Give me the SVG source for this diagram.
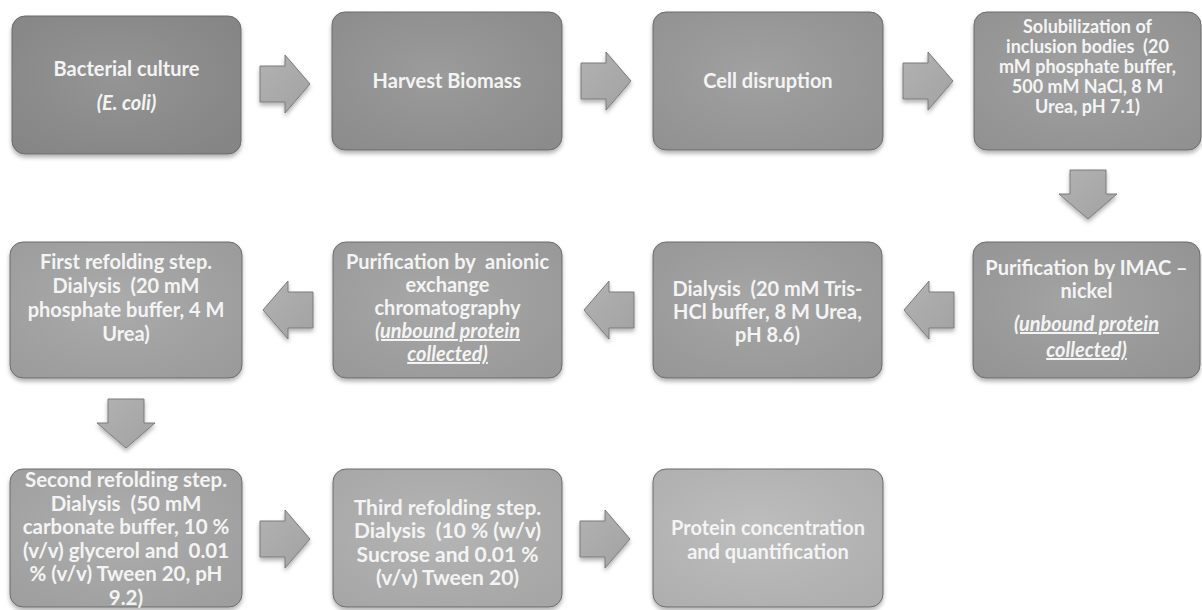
<svg xmlns="http://www.w3.org/2000/svg" width="1202" height="610" viewBox="0 0 1202 610">
  <defs>
    <filter id="shadow" x="-10%" y="-10%" width="120%" height="125%">
      <feDropShadow dx="0" dy="3" stdDeviation="2" flood-color="#000" flood-opacity="0.30"/>
    </filter>
    <radialGradient id="sheen" cx="0.45" cy="0.45" r="0.7">
      <stop offset="0" stop-color="#fff" stop-opacity="0.07"/>
      <stop offset="1" stop-color="#000" stop-opacity="0.06"/>
    </radialGradient>
    <linearGradient id="arrowFill" x1="0" y1="0" x2="1" y2="1">
      <stop offset="0" stop-color="#b2b2b2"/>
      <stop offset="1" stop-color="#a2a2a2"/>
    </linearGradient>
    <path id="arrowRight" d="M0,-18 H25 V-29 L50,0 L25,29 V18 H0 Z"/>
    <path id="arrowLeft" d="M50,-18 H25 V-29 L0,0 L25,29 V18 H50 Z"/>
    <path id="arrowDown" d="M-18,0 H18 V24 H29 L0,49 L-29,24 H-18 Z"/>
  </defs>
  <style>
    .box { stroke: #6f6f6f; stroke-width: 1; filter: url(#shadow); }
    .sheen { fill: url(#sheen); stroke: none; }
    .arrow { fill: url(#arrowFill); stroke: #7a7a7a; stroke-width: 1; filter: url(#shadow); }
    text { font-family: Lato, "Liberation Sans", sans-serif; font-weight: 700; fill: #f4f4f4; text-anchor: middle; font-size: 20px; white-space: pre; }
    .tight { font-size: 18px; }
    .mid { font-size: 20.5px; }
    .big { font-size: 21px; }
    .it { font-style: italic; }
    .ul { text-decoration: underline; }
  </style>

  <!-- connectors -->
  <g id="connectors">
    <use href="#arrowRight" class="arrow" transform="translate(260,84)"/>
    <use href="#arrowRight" class="arrow" transform="translate(581,81)"/>
    <use href="#arrowRight" class="arrow" transform="translate(903,81)"/>
    <use href="#arrowDown" class="arrow" transform="translate(1088,170)"/>
    <use href="#arrowLeft" class="arrow" transform="translate(904,310)"/>
    <use href="#arrowLeft" class="arrow" transform="translate(584,310)"/>
    <use href="#arrowLeft" class="arrow" transform="translate(263,310)"/>
    <use href="#arrowDown" class="arrow" transform="translate(126,399)"/>
    <use href="#arrowRight" class="arrow" transform="translate(260,539)"/>
    <use href="#arrowRight" class="arrow" transform="translate(580,539)"/>
  </g>

  <!-- row 1 -->
  <g id="bacterial-culture">
    <rect class="box" x="12" y="16" width="229" height="138" rx="13" fill="#8d8d8d"/>
    <rect class="sheen" x="12" y="16" width="229" height="138" rx="13"/>
    <text x="126.5" y="76">Bacterial culture</text>
    <text x="126.5" y="110" class="it">(E. coli)</text>
  </g>
  <g id="harvest-biomass">
    <rect class="box" x="332" y="12" width="230" height="138" rx="13" fill="#949494"/>
    <rect class="sheen" x="332" y="12" width="230" height="138" rx="13"/>
    <text x="447" y="88">Harvest Biomass</text>
  </g>
  <g id="cell-disruption">
    <rect class="box" x="653" y="12" width="230" height="138" rx="13" fill="#9a9a9a"/>
    <rect class="sheen" x="653" y="12" width="230" height="138" rx="13"/>
    <text x="768" y="88">Cell disruption</text>
  </g>
  <g id="solubilization">
    <rect class="box" x="974" y="12" width="227" height="138" rx="13" fill="#9a9a9a"/>
    <rect class="sheen" x="974" y="12" width="227" height="138" rx="13"/>
    <text class="tight" x="1087.5" y="33">Solubilization of</text>
    <text class="tight" x="1087.5" y="53">inclusion bodies  (20</text>
    <text class="tight" x="1087.5" y="73">mM phosphate buffer,</text>
    <text class="tight" x="1087.5" y="93">500 mM NaCl, 8 M</text>
    <text class="tight" x="1087.5" y="113">Urea, pH 7.1)</text>
  </g>

  <!-- row 2 -->
  <g id="imac">
    <rect class="box" x="973" y="242" width="227" height="136" rx="13" fill="#9d9d9d"/>
    <rect class="sheen" x="973" y="242" width="227" height="136" rx="13"/>
    <text x="1086.5" y="275">Purification by IMAC –</text>
    <text x="1086.5" y="298">nickel</text>
    <text x="1086.5" y="331" class="it ul">(unbound protein</text>
    <text x="1086.5" y="357" class="it ul">collected)</text>
  </g>
  <g id="dialysis-tris">
    <rect class="box" x="653" y="242" width="229" height="136" rx="13" fill="#a0a0a0"/>
    <rect class="sheen" x="653" y="242" width="229" height="136" rx="13"/>
    <text x="767.5" y="296">Dialysis  (20 mM Tris-</text>
    <text x="767.5" y="319">HCl buffer, 8 M Urea,</text>
    <text x="767.5" y="342">pH 8.6)</text>
  </g>
  <g id="anionic-exchange">
    <rect class="box" x="333" y="242" width="229" height="136" rx="13" fill="#a2a2a2"/>
    <rect class="sheen" x="333" y="242" width="229" height="136" rx="13"/>
    <text x="447.5" y="269">Purification by  anionic</text>
    <text x="447.5" y="292">exchange</text>
    <text x="447.5" y="315">chromatography</text>
    <text x="447.5" y="338" class="it ul">(unbound protein</text>
    <text x="447.5" y="361" class="it ul">collected)</text>
  </g>
  <g id="first-refolding">
    <rect class="box" x="10" y="242" width="232" height="136" rx="13" fill="#a5a5a5"/>
    <rect class="sheen" x="10" y="242" width="232" height="136" rx="13"/>
    <text x="126" y="269">First refolding step.</text>
    <text x="126" y="293">Dialysis  (20 mM</text>
    <text x="126" y="317">phosphate buffer, 4 M</text>
    <text x="126" y="341">Urea)</text>
  </g>

  <!-- row 3 -->
  <g id="second-refolding">
    <rect class="box" x="10" y="469" width="232" height="138" rx="13" fill="#a8a8a8"/>
    <rect class="sheen" x="10" y="469" width="232" height="138" rx="13"/>
    <text class="mid" x="126" y="487">Second refolding step.</text>
    <text class="mid" x="126" y="510.6">Dialysis  (50 mM</text>
    <text class="mid" x="126" y="534.2">carbonate buffer, 10 %</text>
    <text class="mid" x="126" y="557.8">(v/v) glycerol and  0.01</text>
    <text class="mid" x="126" y="581.4">% (v/v) Tween 20, pH</text>
    <text class="mid" x="126" y="605">9.2)</text>
  </g>
  <g id="third-refolding">
    <rect class="box" x="333" y="469" width="229" height="138" rx="13" fill="#b0b0b0"/>
    <rect class="sheen" x="333" y="469" width="229" height="138" rx="13"/>
    <text class="big" x="447.5" y="515">Third refolding step.</text>
    <text class="big" x="447.5" y="538">Dialysis  (10 % (w/v)</text>
    <text class="big" x="447.5" y="562">Sucrose and 0.01 %</text>
    <text class="big" x="447.5" y="585">(v/v) Tween 20)</text>
  </g>
  <g id="protein-concentration">
    <rect class="box" x="653" y="469" width="230" height="138" rx="13" fill="#b9b9b9"/>
    <rect class="sheen" x="653" y="469" width="230" height="138" rx="13"/>
    <text x="768" y="535">Protein concentration</text>
    <text x="768" y="559">and quantification</text>
  </g>
</svg>
